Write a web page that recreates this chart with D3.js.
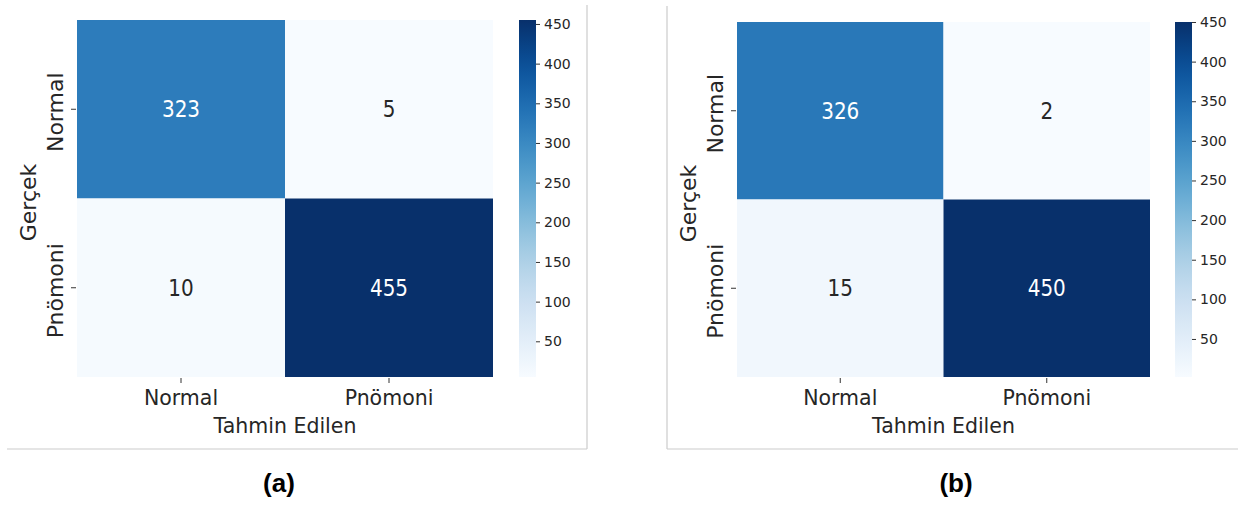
<!DOCTYPE html>
<html>
<head>
<meta charset="utf-8">
<script src="https://cdn.jsdelivr.net/npm/d3@7"></script>
<style>
  body { margin: 0; background: #fff; }
  text { font-family: "DejaVu Sans", sans-serif; fill: #262626; }
</style>
</head>
<body>
<svg id="chart" width="1238" height="506"></svg>
<script>
// class names on both axes
var classes = ["Normal", "Pnömoni"];
// confusion matrices, rows = actual, cols = predicted
var matrixA = [[323, 5], [10, 455]];
var matrixB = [[326, 2], [15, 450]];
var colorbarTicks = [50, 100, 150, 200, 250, 300, 350, 400, 450];
var captions = ["(a)", "(b)"];

var svg = d3.select("#chart");

var panels = [
  { m: matrixA, cap: captions[0], x0: 77, x1: 493, y0: 20, y1: 377, cb: 519, capX: 279,
    frame: [[587, 5, 587, 449], [7, 449, 587, 449]] },
  { m: matrixB, cap: captions[1], x0: 737, x1: 1150, y0: 22, y1: 377, cb: 1175, capX: 956,
    frame: [[667, 6, 667, 449], [667, 449, 1238, 449]] }
];

panels.forEach(function(p, pi) {
  var g = svg.append("g");
  var flat = [];
  p.m.forEach(function(row, r) {
    row.forEach(function(v, c) { flat.push({ r: r, c: c, v: v }); });
  });
  var vmin = d3.min(flat, function(d) { return d.v; });
  var vmax = d3.max(flat, function(d) { return d.v; });
  var color = d3.scaleSequential(d3.interpolateBlues).domain([vmin, vmax]);

  var x = d3.scaleBand().domain(classes).range([p.x0, p.x1]);
  var y = d3.scaleBand().domain(classes).range([p.y0, p.y1]);

  // frame lines
  p.frame.forEach(function(l) {
    g.append("line")
      .attr("x1", l[0]).attr("y1", l[1]).attr("x2", l[2]).attr("y2", l[3])
      .attr("stroke", "#cccccc").attr("stroke-width", 1.2);
  });

  g.selectAll("rect.cell")
    .data(flat)
    .enter()
    .append("rect")
    .attr("class", "cell")
    .attr("x", function(d) { return x(classes[d.c]); })
    .attr("y", function(d) { return y(classes[d.r]); })
    .attr("width", x.bandwidth())
    .attr("height", y.bandwidth())
    .attr("fill", function(d) { return color(d.v); });

  // annotations (slightly stretched vertically like the source image)
  g.selectAll("text.ann")
    .data(flat)
    .enter()
    .append("text")
    .attr("class", "ann")
    .attr("transform", function(d) {
      var cx = x(classes[d.c]) + x.bandwidth() / 2;
      var cy = y(classes[d.r]) + y.bandwidth() / 2;
      return "translate(" + cx + "," + cy + ") scale(1,1.13)";
    })
    .attr("dy", "0.36em")
    .attr("text-anchor", "middle")
    .style("font-size", "20px")
    .style("fill", function(d) {
      return (d.v - vmin) / (vmax - vmin) > 0.5 ? "#ffffff" : "#262626";
    })
    .text(function(d) { return d.v; });

  // x axis ticks + labels, y axis ticks + labels
  classes.forEach(function(c) {
    var cx = x(c) + x.bandwidth() / 2;
    g.append("line")
      .attr("x1", cx).attr("x2", cx).attr("y1", p.y1 + 1).attr("y2", p.y1 + 6)
      .attr("stroke", "#333").attr("stroke-width", 1);
    g.append("text")
      .attr("x", cx).attr("y", p.y1 + 28)
      .attr("text-anchor", "middle")
      .style("font-size", "20.5px")
      .text(c);
    var cy = y(c) + y.bandwidth() / 2;
    g.append("line")
      .attr("x1", p.x0 - 6).attr("x2", p.x0 - 1).attr("y1", cy).attr("y2", cy)
      .attr("stroke", "#333").attr("stroke-width", 1);
    g.append("text")
      .attr("transform", "translate(" + (p.x0 - 22) + "," + (cy + 3) + ") rotate(-90)")
      .attr("dy", "0.36em")
      .attr("text-anchor", "middle")
      .style("font-size", "22px")
      .text(c);
  });

  g.append("text")
    .attr("x", (p.x0 + p.x1) / 2).attr("y", p.y1 + 56)
    .attr("text-anchor", "middle")
    .style("font-size", "20.5px")
    .text("Tahmin Edilen");
  g.append("text")
    .attr("transform", "translate(" + (p.x0 - 49) + "," + ((p.y0 + p.y1) / 2 + 4) + ") rotate(-90)")
    .attr("dy", "0.36em")
    .attr("text-anchor", "middle")
    .style("font-size", "22px")
    .text("Gerçek");

  // colorbar
  var gradId = "grad" + pi;
  var grad = svg.append("defs").append("linearGradient")
    .attr("id", gradId)
    .attr("x1", 0).attr("y1", 1).attr("x2", 0).attr("y2", 0);
  d3.range(0, 1.0001, 0.05).forEach(function(t) {
    grad.append("stop").attr("offset", t).attr("stop-color", d3.interpolateBlues(t));
  });
  var cbW = 17;
  var cbScale = d3.scaleLinear().domain([vmin, vmax]).range([p.y1, p.y0]);
  g.append("rect")
    .attr("x", p.cb).attr("y", p.y0)
    .attr("width", cbW).attr("height", p.y1 - p.y0)
    .attr("fill", "url(#" + gradId + ")");
  var cbAxis = d3.axisRight(cbScale).tickValues(colorbarTicks).tickSize(4).tickPadding(4);
  var ax = g.append("g")
    .attr("transform", "translate(" + (p.cb + cbW) + ",0)")
    .call(cbAxis);
  ax.select(".domain").remove();
  ax.selectAll("line").attr("stroke", "#333");
  ax.selectAll("text")
    .style("font-size", "14px")
    .style("font-family", "DejaVu Sans, sans-serif")
    .attr("fill", "#262626");

  svg.append("text")
    .attr("x", p.capX).attr("y", 492)
    .attr("text-anchor", "middle")
    .style("font-family", "Liberation Sans, Arial, sans-serif")
    .style("font-weight", "bold")
    .style("font-size", "26px")
    .style("fill", "#000")
    .text(p.cap);
});
</script>
</body>
</html>
